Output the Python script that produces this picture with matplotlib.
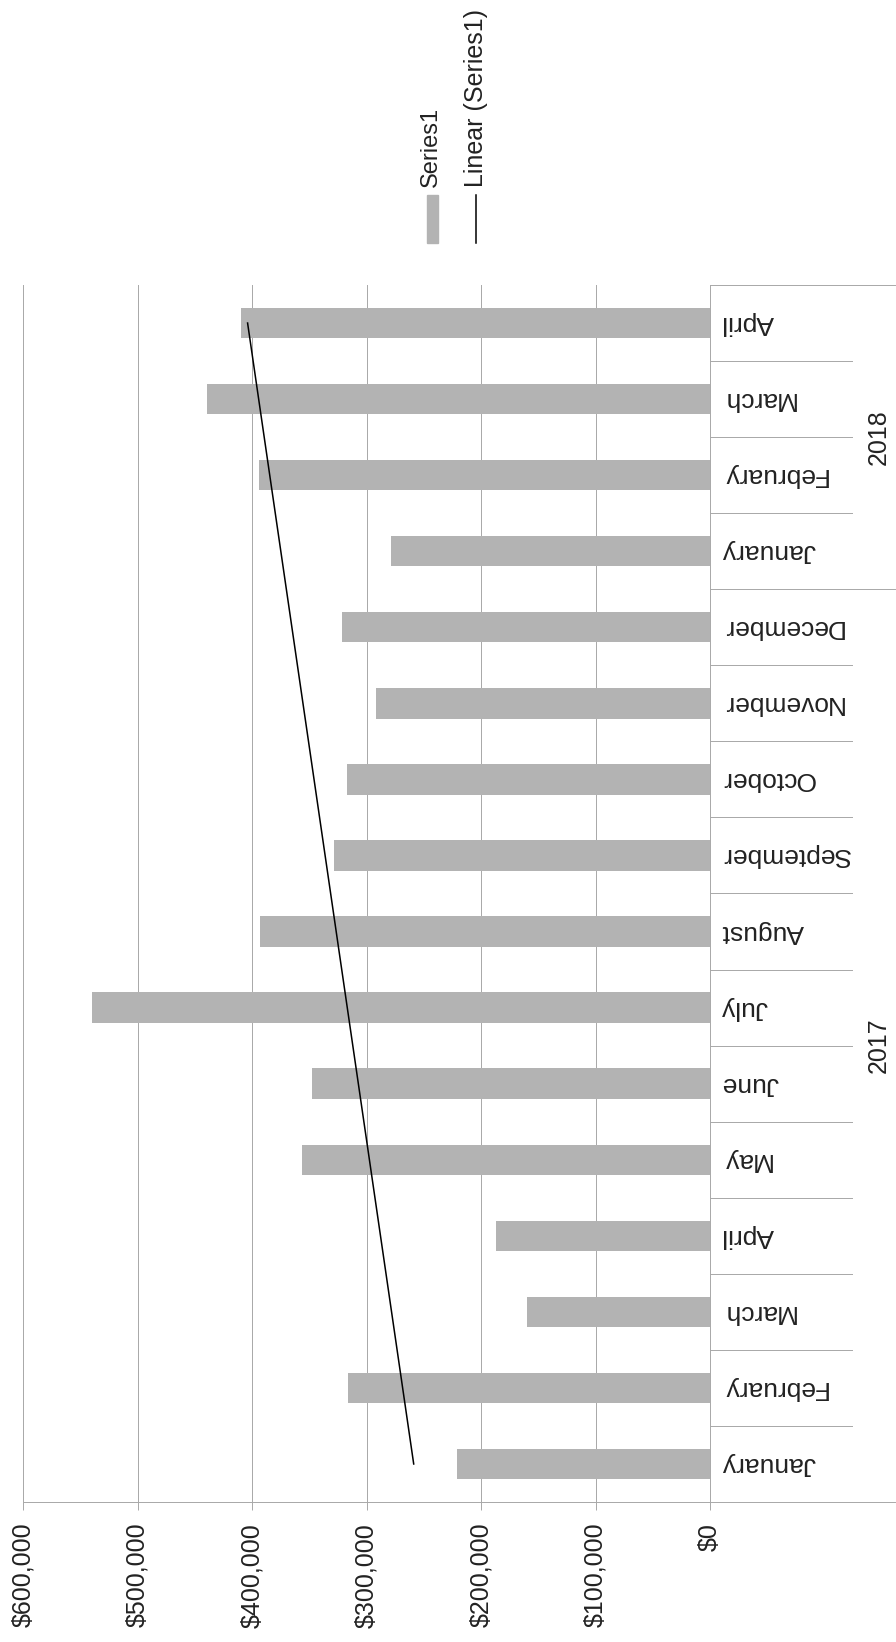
import matplotlib
matplotlib.use('Agg')
import matplotlib.pyplot as plt
import numpy as np
from matplotlib.lines import Line2D
from matplotlib.patches import Rectangle

# category labels (two levels: month / year)
months = ['January', 'February', 'March', 'April', 'May', 'June', 'July',
          'August', 'September', 'October', 'November', 'December',
          'January', 'February', 'March', 'April']
years = ['2017', '2018']
year_counts = [12, 4]

# Series1 values
sales = [221000, 316000, 160000, 187000, 356000, 348000, 540000, 393000,
         328000, 317000, 292000, 321000, 279000, 394000, 439000, 410000]

value_ticks = [0, 100000, 200000, 300000, 400000, 500000, 600000]

plt.rcParams['font.family'] = ['Liberation Sans', 'DejaVu Sans']

W, H = 896, 1642
fig = plt.figure(figsize=(W / 100, H / 100), dpi=100)
ax = fig.add_axes([23 / W, 140 / H, 687 / W, 1217 / H])

grey = '#a8a8a8'
bar_color = '#b3b3b3'
txt = '#222222'

idx = np.arange(len(sales))
ax.barh(idx, sales, height=0.4, color=bar_color, zorder=2)

# linear trendline, like Excel's "Linear (Series1)"
coef = np.polyfit(idx, sales, 1)
ax.plot(np.polyval(coef, idx), idx, color='black', lw=1.1, zorder=3)

ax.set_xlim(600000, 0)
ax.set_ylim(-0.5, len(sales) - 0.5)
ax.set_axisbelow(True)
ax.grid(axis='x', color=grey, lw=0.7)

for s in ['top', 'left', 'bottom']:
    ax.spines[s].set_visible(False)
ax.spines['right'].set_color(grey)
ax.spines['right'].set_linewidth(0.7)

ax.set_xticks(value_ticks)
ax.set_xticklabels([f'${v:,.0f}' for v in value_ticks])
ax.tick_params(axis='x', direction='out', length=6, width=0.7, color=grey,
               pad=9, labelsize=18, labelrotation=90, labelcolor=txt)

ax.yaxis.tick_right()
ax.set_yticks(idx)
ax.set_yticklabels(months, rotation=180, fontsize=19, color=txt)
ax.tick_params(axis='y', length=0, pad=8)
for t in ax.get_yticklabels():
    t.set_va('center')

# category separators; year boundaries run out to the edge
yt = ax.get_yaxis_transform()
bounds = np.cumsum([0] + year_counts) - 0.5
for b in np.arange(-0.5, len(sales), 1.0):
    x0 = 0 if b == -0.5 else 1
    x1 = 1.27 if b in bounds else 1.2067
    ax.plot([x0, x1], [b, b], transform=yt, color=grey, lw=0.7, clip_on=False)

start = 0
for yr, n in zip(years, year_counts):
    ax.text(1.246, start + (n - 1) / 2, yr, transform=yt, rotation=90,
            ha='center', va='center', fontsize=18, color=txt)
    start += n

# legend, drawn by hand so it can be rotated
fig.patches.append(Rectangle((427 / W, 1 - 243 / H), 11 / W, 48 / H,
                             transform=fig.transFigure, color=bar_color))
fig.text(431 / W, 1 - 187 / H, 'Series1', rotation=90, ha='center',
         va='bottom', fontsize=17, color=txt)
fig.add_artist(Line2D([476 / W, 476 / W], [1 - 243 / H, 1 - 195 / H],
                      color='black', lw=1.1))
fig.text(476 / W, 1 - 187 / H, 'Linear (Series1)', rotation=90, ha='center',
         va='bottom', fontsize=18, color=txt)

fig.savefig('out.png', dpi=100)
